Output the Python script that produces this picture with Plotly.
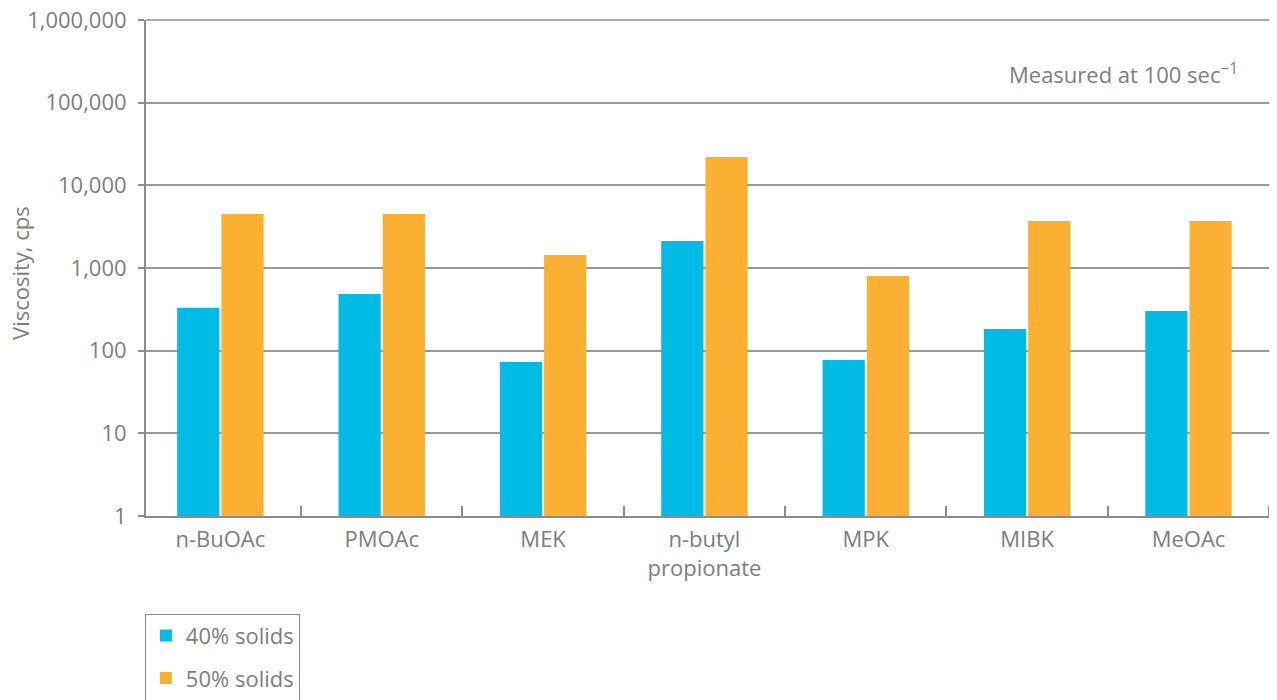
import plotly.graph_objects as go

categories = ["n-BuOAc", "PMOAc", "MEK", "n-butyl<br>propionate", "MPK", "MIBK", "MeOAc"]
solids_40 = [330, 485, 73, 2120, 77, 183, 302]
solids_50 = [4500, 4500, 1440, 22000, 800, 3700, 3700]
y_ticks = [1, 10, 100, 1000, 10000, 100000, 1000000]
y_ticklabels = ["1", "10", "100", "1,000", "10,000", "100,000", "1,000,000"]

GRAY = "#7d7d7d"
LINE = "#8c8c8c"
FONT = "'Open Sans', sans-serif"
FS = 22

fig = go.Figure()
fig.add_bar(x=categories, y=solids_40, name="40% solids", legendgroup="a",
            marker=dict(color="#00BBE3", line=dict(width=0)))
fig.add_bar(x=categories, y=solids_50, name="50% solids", legendgroup="b",
            marker=dict(color="#FBB034", line=dict(width=0)))

fig.update_layout(
    width=1274, height=692,
    margin=dict(l=138, r=3, t=12, b=184, autoexpand=False),
    paper_bgcolor="white", plot_bgcolor="white",
    barmode="group", bargap=0.452, bargroupgap=0.045,
    font=dict(family=FONT, size=FS, color=GRAY),
    showlegend=True,
    legend=dict(x=-0.001, y=-0.197, xanchor="left", yanchor="top",
                bordercolor=LINE, borderwidth=1, bgcolor="white",
                font=dict(size=FS, color=GRAY), traceorder="grouped",
                itemsizing="constant", tracegroupgap=11),
)
fig.update_xaxes(
    type="category", range=[-0.461, 6.561],
    showline=True, linecolor=LINE, linewidth=2, mirror=False,
    ticks="inside", tickson="boundaries", ticklen=10, tickcolor=LINE, tickwidth=1.5,
    showgrid=False, tickfont=dict(size=FS, color=GRAY), layer="above traces",
    automargin=False, ticklabelstandoff=3,
)
fig.update_yaxes(
    type="log", range=[0, 6], tickvals=y_ticks, ticktext=y_ticklabels,
    showline=True, linecolor=LINE, linewidth=2,
    ticks="outside", ticklen=6, tickcolor=LINE, tickwidth=1.5,
    showgrid=True, gridcolor="#999999", gridwidth=1.5,
    zeroline=False, layer="above traces", automargin=False,
    tickfont=dict(size=FS, color=GRAY), ticklabeloverflow="allow",
    ticklabelstandoff=7,
)
# axis title
fig.add_annotation(text="Viscosity, cps", xref="paper", yref="paper",
                   x=-0.1112, y=0.49, textangle=-90, showarrow=False,
                   xanchor="center", yanchor="middle", font=dict(size=FS, color=GRAY))
# top gridline and right border of the frame
fig.add_shape(type="line", xref="paper", yref="paper", x0=0, x1=1, y0=1, y1=1,
              line=dict(color=LINE, width=1.5))
fig.add_shape(type="line", xref="paper", yref="paper", x0=1, x1=1, y0=0, y1=1,
              line=dict(color=LINE, width=1.5))
fig.add_annotation(text="Measured at 100 sec<sup>\u22121</sup>", xref="paper", yref="paper",
                   x=0.966, y=0.893, xanchor="right", yanchor="middle", showarrow=False,
                   font=dict(size=FS, color=GRAY))

fig.write_html("out.html")
